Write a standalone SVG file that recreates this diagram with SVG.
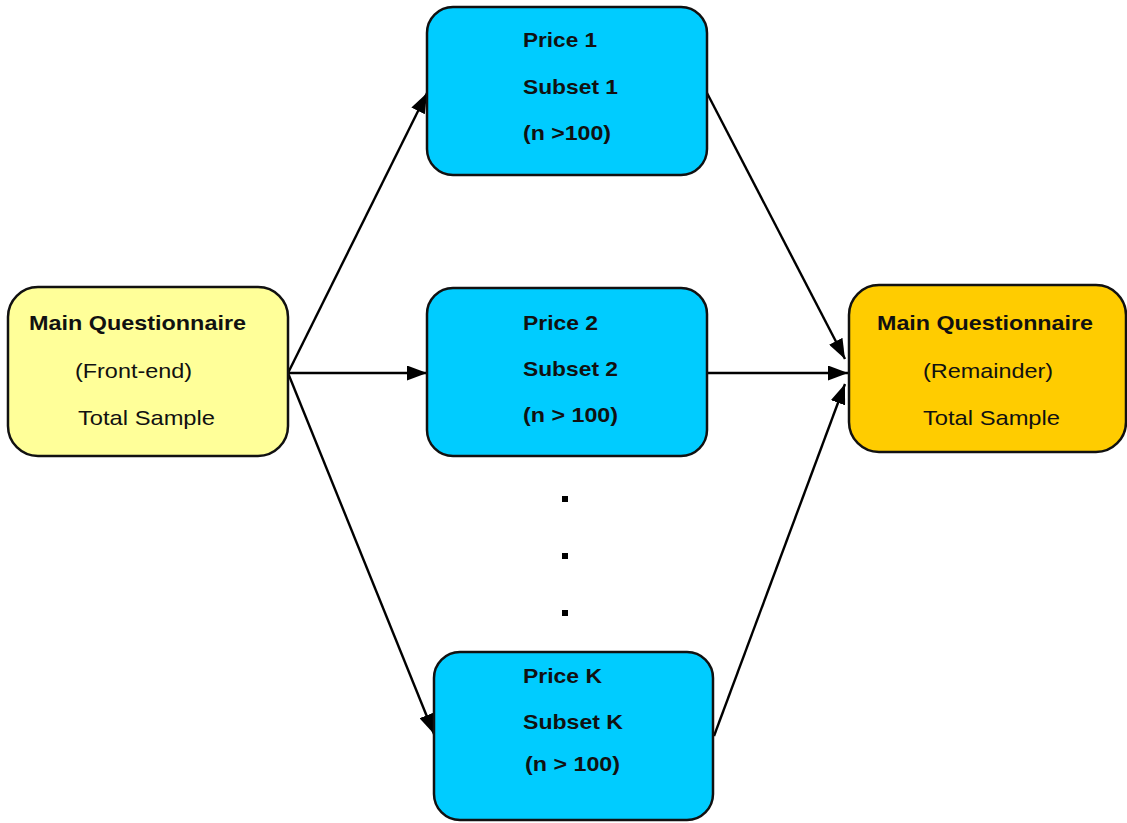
<svg xmlns="http://www.w3.org/2000/svg" width="1127" height="823" viewBox="0 0 1127 823">
<style>
.box{stroke:#111;stroke-width:2.5}
.yellow{fill:#FFFF99}
.blue{fill:#00CCFF}
.orange{fill:#FFCC00}
text{font-family:"Liberation Sans",Arial,sans-serif;font-size:21px;fill:#111}
.b{font-weight:bold}
.conn{stroke:#000;stroke-width:2.4;fill:none;marker-end:url(#arrow)}
</style>
<defs>
<marker id="arrow" markerUnits="userSpaceOnUse" markerWidth="21" markerHeight="15" refX="20" refY="7.5" orient="auto">
<path d="M0,0 L20,7.5 L0,15 Z" fill="#000"/>
</marker>
</defs>
<rect width="1127" height="823" fill="#fff"/>
<g id="connectors">
<line class="conn" x1="288" y1="373" x2="427" y2="93"/>
<line class="conn" x1="288" y1="373" x2="427" y2="373"/>
<line class="conn" x1="288" y1="373" x2="434" y2="734"/>
<line class="conn" x1="707" y1="93" x2="845" y2="359"/>
<line class="conn" x1="707" y1="373" x2="848" y2="373"/>
<line class="conn" x1="714" y1="736" x2="845" y2="384"/>
</g>
<g id="front">
<rect class="box yellow" x="8" y="287" width="280" height="169" rx="30"/>
<text class="b" x="29" y="330" textLength="217" lengthAdjust="spacingAndGlyphs">Main Questionnaire</text>
<text x="75" y="378" textLength="117" lengthAdjust="spacingAndGlyphs">(Front-end)</text>
<text x="78" y="425" textLength="137" lengthAdjust="spacingAndGlyphs">Total Sample</text>
</g>
<g id="price1">
<rect class="box blue" x="427" y="7" width="280" height="168" rx="26"/>
<text class="b" x="523" y="47" textLength="74" lengthAdjust="spacingAndGlyphs">Price 1</text>
<text class="b" x="523" y="94" textLength="95" lengthAdjust="spacingAndGlyphs">Subset 1</text>
<text class="b" x="523" y="140" textLength="88" lengthAdjust="spacingAndGlyphs">(n &gt;100)</text>
</g>
<g id="price2">
<rect class="box blue" x="427" y="288" width="280" height="168" rx="26"/>
<text class="b" x="523" y="330" textLength="75" lengthAdjust="spacingAndGlyphs">Price 2</text>
<text class="b" x="523" y="376" textLength="95" lengthAdjust="spacingAndGlyphs">Subset 2</text>
<text class="b" x="523" y="422" textLength="95" lengthAdjust="spacingAndGlyphs">(n &gt; 100)</text>
</g>
<g id="dots">
<rect x="562" y="496" width="6" height="6" fill="#000"/>
<rect x="562" y="553" width="6" height="6" fill="#000"/>
<rect x="562" y="610" width="6" height="6" fill="#000"/>
</g>
<g id="priceK">
<rect class="box blue" x="434" y="652" width="279" height="168" rx="26"/>
<text class="b" x="523" y="683" textLength="79" lengthAdjust="spacingAndGlyphs">Price K</text>
<text class="b" x="523" y="729" textLength="100" lengthAdjust="spacingAndGlyphs">Subset K</text>
<text class="b" x="525" y="771" textLength="95" lengthAdjust="spacingAndGlyphs">(n &gt; 100)</text>
</g>
<g id="remainder">
<rect class="box orange" x="849" y="285" width="277" height="167" rx="30"/>
<text class="b" x="877" y="330" textLength="216" lengthAdjust="spacingAndGlyphs">Main Questionnaire</text>
<text x="923" y="378" textLength="130" lengthAdjust="spacingAndGlyphs">(Remainder)</text>
<text x="923" y="425" textLength="137" lengthAdjust="spacingAndGlyphs">Total Sample</text>
</g>
</svg>
